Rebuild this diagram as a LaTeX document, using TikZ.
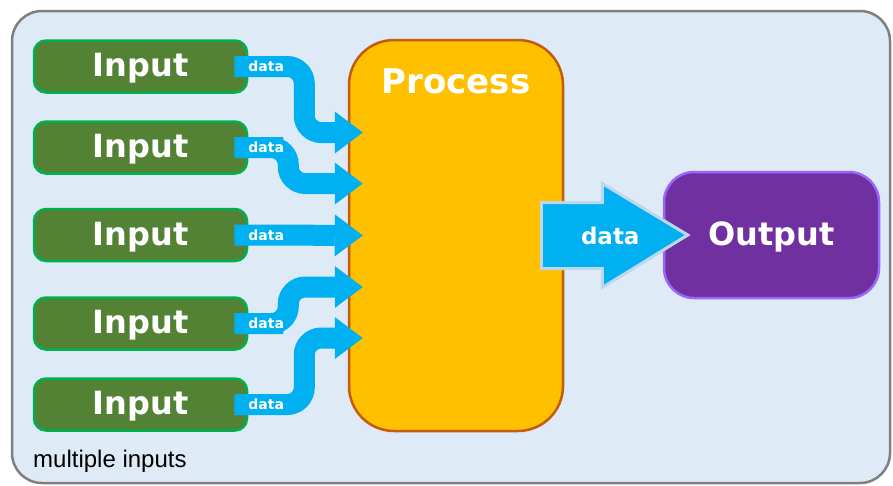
\documentclass[tikz,border=0pt]{standalone}
\usepackage{fontspec}
\usepackage{xcolor}
\usepackage{tikz}
\usetikzlibrary{positioning,arrows.meta,calc}
\newfontfamily\dvs{DejaVu Sans}
\newfontfamily\lib{Liberation Sans}
\definecolor{bgblue}{HTML}{DEEBF7}
\definecolor{frgray}{HTML}{7F7F7F}
\definecolor{ingreen}{HTML}{548235}
\definecolor{inedge}{HTML}{00B050}
\definecolor{arrblue}{HTML}{00B0F0}
\definecolor{arredge}{HTML}{BDD7EE}
\definecolor{procfill}{HTML}{FFC000}
\definecolor{procedge}{HTML}{C55A11}
\definecolor{outfill}{HTML}{7030A0}
\definecolor{outedge}{HTML}{9966FF}

\begin{document}
\begin{tikzpicture}[x=1pt, y=-1pt,
  frame/.style={draw=frgray, fill=bgblue, line width=2.5pt, rounded corners=30pt},
  inbox/.style={draw=inedge, fill=ingreen, line width=2.5pt, rounded corners=12pt, minimum width=213pt, minimum height=52pt, inner sep=0pt, text depth=3pt, text=white, font=\dvs\bfseries\fontsize{32}{36}\selectfont},
  procbox/.style={draw=procedge, fill=procfill, line width=2.5pt, rounded corners=45pt, minimum width=214pt, minimum height=391pt, inner sep=0pt},
  outbox/.style={draw=outedge, fill=outfill, line width=2.5pt, rounded corners=30pt, minimum width=215pt, minimum height=126pt, inner sep=0pt, text depth=3pt, text=white, font=\dvs\bfseries\fontsize{32}{36}\selectfont},
  ttl/.style={text=white, inner sep=0pt, font=\dvs\bfseries\fontsize{34}{38}\selectfont},
  arr/.style={draw=arrblue, line width=21pt, rounded corners=17pt, -{Triangle[length=28pt, width=42pt, line width=0pt]}},
  lbl/.style={text=white, inner sep=0pt, font=\dvs\bfseries\fontsize{14}{16}\selectfont},
  bigarr/.style={draw=arredge, fill=arrblue, line width=3pt, line join=miter},
  biglbl/.style={text=white, inner sep=0pt, font=\dvs\bfseries\fontsize{23}{26}\selectfont}]
\useasboundingbox (0,0) rectangle (893,485);
\draw[frame] (12,11) rectangle (890,483);
\node[anchor=west, inner sep=0pt, font=\lib\fontsize{24}{28}\selectfont] (note) at (33,461) {multiple inputs};

% inputs, process, output
\foreach \n/\y in {1/66.5, 2/147.5, 3/235, 4/323.5, 5/404.5}
  \node[inbox] (in\n) at (140.5,\y) {Input};
\node[procbox, label={[ttl, below=30pt]north:Process}] (proc) at (456,235.5) {};
\node[outbox] (out) at (771.5,235) {Output};

% data flow into process
\foreach \n/\d/\t in {1/70/-103, 2/54/-52, 4/54/51.5, 5/70/102.5}
  \draw[arr] ($(in\n.east)+(-14,0)$) -- ++(32,0) node[lbl]{data} -- ++(\d-32,0) |- ($(proc.west)+(15,\t)$);
\draw[arr] ($(in3.east)+(-14,0)$) -- ++(32,0) node[lbl]{data} -- ($(proc.west)+(15,0)$);

% data flow out
\draw[bigarr] ($(proc.east)+(-23,-33)$) -- ++(61,0) -- ++(0,-19) -- ($(out.west)+(25,0)$) -- ($(proc.east)+(38,52)$) -- ++(0,-19) -- ++(-61,0) -- cycle;
\node[biglbl] (flow) at ($(proc.east)+(46,0)$) {data};
\end{tikzpicture}
\end{document}
